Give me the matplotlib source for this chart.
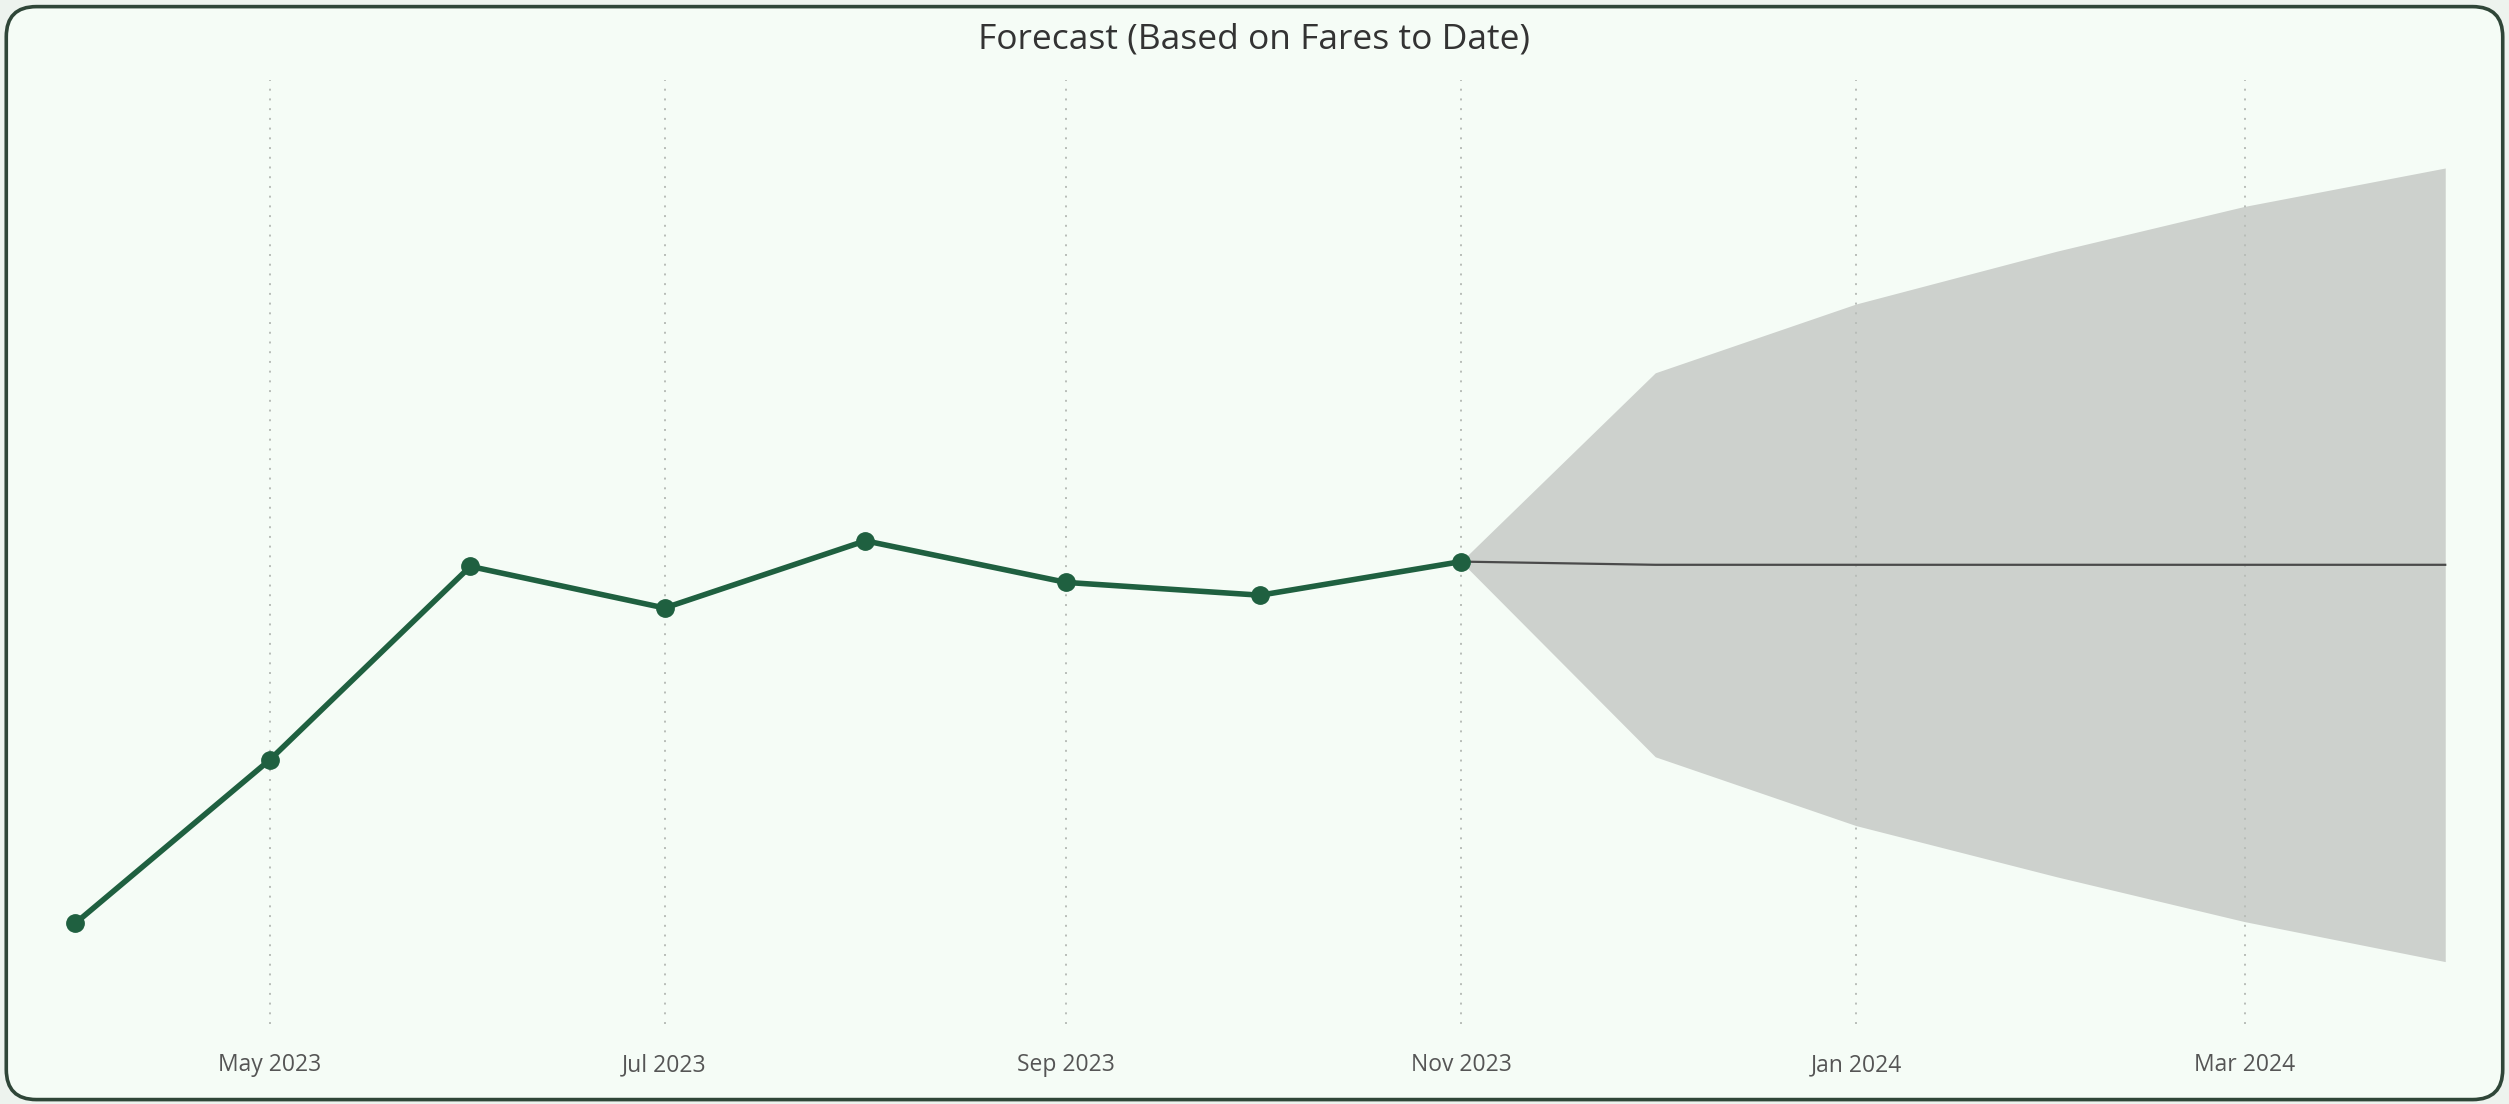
import numpy as np
import pandas as pd
import matplotlib
matplotlib.use("Agg")
import matplotlib.pyplot as plt
import matplotlib.dates as mdates
from matplotlib.patches import FancyBboxPatch

### Data (arbitrary fare units)
actual_months = ["2023-04-01", "2023-05-01", "2023-06-01", "2023-07-01",
                 "2023-08-01", "2023-09-01", "2023-10-01", "2023-11-01"]
actual_values = [63, 165, 286, 260, 302, 276, 268, 289]

forecast_months = ["2023-11-01", "2023-12-01", "2024-01-01", "2024-02-01",
                   "2024-03-01", "2024-04-01"]
forecast_values = [289, 287, 287, 287, 287, 287]
forecast_upper = [289, 407, 450, 483, 511, 535]
forecast_lower = [289, 167, 124, 92, 64, 39]

tick_months = ["2023-05-01", "2023-07-01", "2023-09-01", "2023-11-01",
               "2024-01-01", "2024-03-01"]

x_act = pd.to_datetime(actual_months)
x_fc = pd.to_datetime(forecast_months)
x_ticks = pd.to_datetime(tick_months)

plt.rcParams["font.family"] = ["Open Sans", "DejaVu Sans"]

### Figure and card background
fig = plt.figure(figsize=(25.09, 11.04), dpi=100)
fig.patch.set_facecolor("#EDF3EE")
card = FancyBboxPatch((0.0025, 0.004), 0.995, 0.99, boxstyle="round,pad=0,rounding_size=0.012",
                      transform=fig.transFigure, facecolor="#F5FCF6", edgecolor="#2F4638",
                      linewidth=2.6, mutation_aspect=2509 / 1104, zorder=-10)
fig.patches.append(card)

ax = fig.add_axes([20 / 1568, 50 / 690, 1530 / 1568, 590 / 690])
ax.set_facecolor("none")

### Forecast band and line
ax.fill_between(x_fc, forecast_lower, forecast_upper, color="#CDD1CD", linewidth=0, zorder=1)
ax.plot(x_fc, forecast_values, color="#4A4A4A", linewidth=1.6, zorder=2)

### Actual fares
ax.plot(x_act, actual_values, color="#1F6040", linewidth=4, marker="o",
        markersize=12.5, zorder=3, solid_capstyle="round")

### Axes styling
start = x_act[0] - pd.Timedelta(days=6.7)
end = x_fc[-1] + pd.Timedelta(days=5.4)
ax.set_xlim(start, end)
ax.set_ylim(0, 590)
ax.set_xticks(x_ticks)
ax.xaxis.set_major_formatter(mdates.DateFormatter("%b %Y"))
ax.tick_params(axis="x", length=0, labelsize=16.5, labelcolor="#555555", pad=21)
ax.set_yticks([])
for s in ax.spines.values():
    s.set_visible(False)
ax.grid(axis="x", color="#B8BDB8", linestyle=(0, (1, 4)), linewidth=1.4, zorder=0)

fig.text(0.5, 0.964, "Forecast (Based on Fares to Date)", ha="center", va="center",
         fontsize=25.5, color="#333333")

plt.savefig("out.png", dpi=100, facecolor=fig.get_facecolor())
